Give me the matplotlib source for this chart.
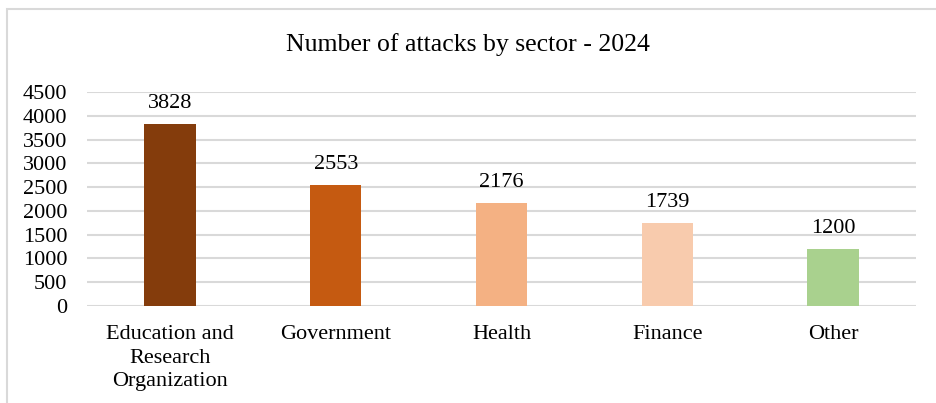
import matplotlib
matplotlib.use('Agg')
import matplotlib.pyplot as plt
from matplotlib.patches import Rectangle

plt.rcParams['font.family'] = ['Liberation Serif', 'DejaVu Serif']

## Data
sectors = ['Education and\nResearch\nOrganization', 'Government', 'Health', 'Finance', 'Other']
attacks = [3828, 2553, 2176, 1739, 1200]
bar_colors = ['#843C0C', '#C55A11', '#F4B183', '#F8CBAD', '#A9D18E']
yticks = [0, 500, 1000, 1500, 2000, 2500, 3000, 3500, 4000, 4500]

fig = plt.figure(figsize=(9.36, 4.03), dpi=100)

# chart frame (light gray, runs off the right/bottom edges)
fig.patches.append(Rectangle((7/936, -0.1), 1.2, 1 - 9/403 + 0.1, transform=fig.transFigure,
                             fill=False, edgecolor='#D9D9D9', linewidth=1.5))

ax = fig.add_axes([87/936, 1 - 306/403, (916 - 87)/936, (306 - 92)/403])

x = range(len(sectors))
bars = ax.bar(x, attacks, width=0.31, color=bar_colors, zorder=3)
for xi, v in zip(x, attacks):
    ax.text(xi, v + 230, str(v), ha='center', va='bottom', fontsize=16)

ax.set_xlim(-0.5, len(sectors) - 0.5)
ax.set_ylim(0, 4500)
ax.set_yticks(yticks)
ax.set_xticks(list(x))
ax.set_xticklabels(sectors, fontsize=16, linespacing=1.3)
ax.tick_params(axis='y', labelsize=16, length=0, pad=14)
ax.tick_params(axis='x', length=0, pad=14)
ax.grid(axis='y', color='#D9D9D9', linewidth=1.5, zorder=0)
for s in ax.spines.values():
    s.set_visible(False)

fig.text(0.5, 1 - 45/403, 'Number of attacks by sector - 2024', ha='center', va='center', fontsize=18.5)

fig.savefig('out.png', dpi=100)
